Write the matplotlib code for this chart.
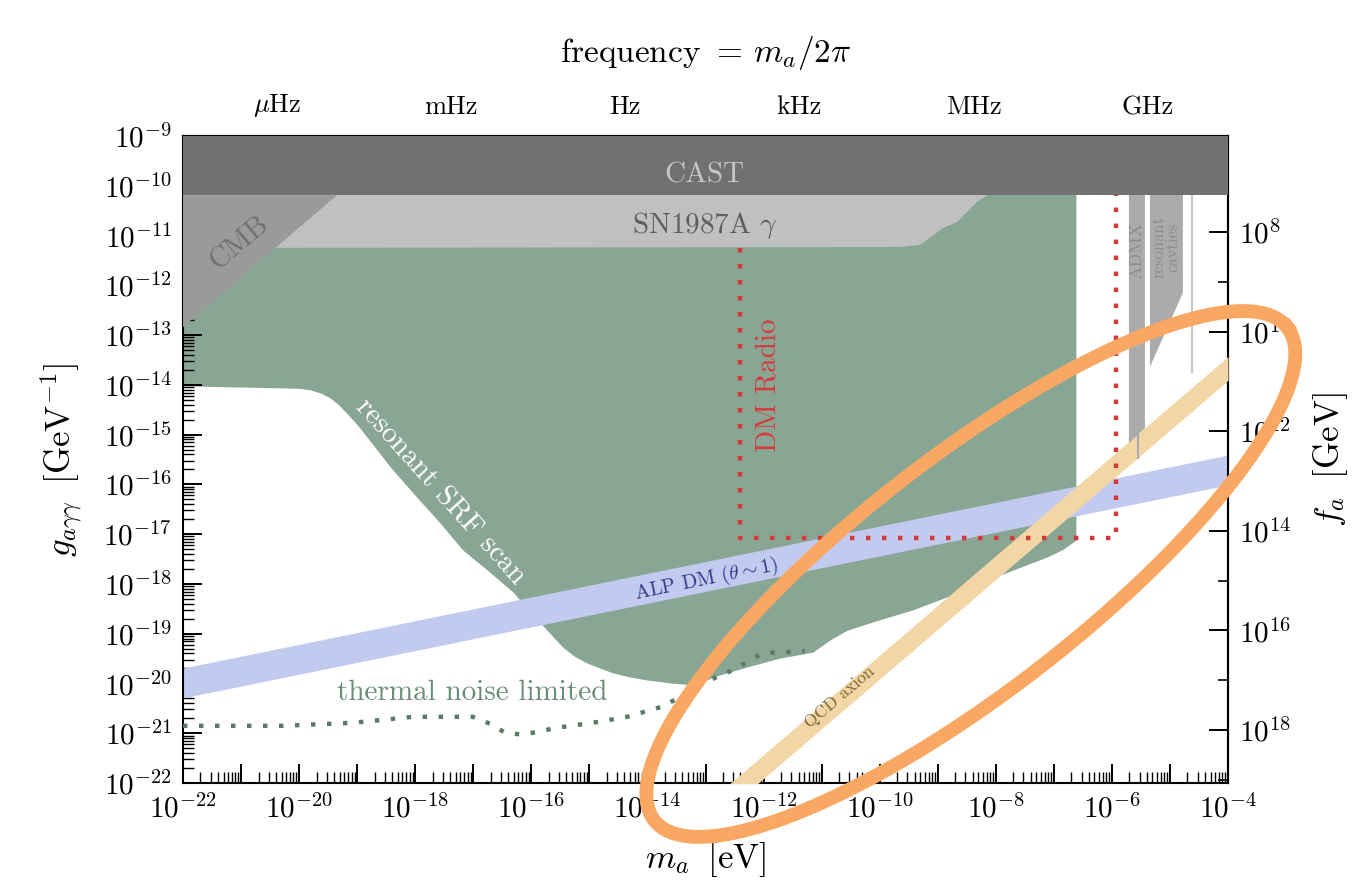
import numpy as np
import matplotlib.pyplot as plt
from matplotlib.lines import Line2D
from matplotlib.ticker import FixedLocator, NullFormatter, FuncFormatter

plt.rcParams['font.family'] = 'serif'
plt.rcParams['font.serif'] = ['cmr10', 'DejaVu Serif']
plt.rcParams['mathtext.fontset'] = 'cm'
plt.rcParams['axes.formatter.use_mathtext'] = True

# --- data (log10 of m_a [eV] and g [GeV^-1]) ---
cast_bottom = -10.19

cmb_x = [-22.0, -19.35, -22.0]
cmb_y = [-12.84, -10.19, -10.19]

sn_x = [-22.0, -9.65, -9.31, -9.14, -8.91, -8.67, -8.50, -8.33, -8.15]
sn_y = [-11.25, -11.23, -11.19, -11.05, -10.85, -10.73, -10.53, -10.33, -10.19]

srf_x = [-22.0, -20.33, -20.0, -19.81, -19.62, -19.47, -19.32, -19.18, -19.0,
         -18.83, -18.43, -18.04, -17.57, -17.18, -16.95, -16.76, -16.32, -15.85,
         -15.46, -15.25, -15.04, -14.80, -14.59, -14.30, -14.01, -13.60, -13.22,
         -13.05, -12.87, -12.29, -11.72, -11.15, -10.85, -10.56, -10.00, -9.43,
         -8.84, -8.27, -7.70, -7.12, -6.85, -6.62]
srf_y = [-14.02, -14.06, -14.07, -14.10, -14.17, -14.26, -14.40, -14.57, -14.80,
         -15.05, -15.65, -16.17, -16.78, -17.32, -17.54, -17.72, -18.16, -18.78,
         -19.27, -19.46, -19.59, -19.70, -19.79, -19.87, -19.93, -19.99, -20.03,
         -19.97, -19.87, -19.67, -19.49, -19.37, -19.12, -18.93, -18.72, -18.52,
         -18.26, -17.98, -17.72, -17.46, -17.31, -17.12]

tn_x = [-22.0, -20.28, -19.07, -18.04, -17.01, -16.71, -16.45, -16.14, -15.56,
        -14.94, -14.35, -13.73, -13.32, -12.92, -12.53, -12.01, -11.29]
tn_y = [-20.85, -20.85, -20.79, -20.67, -20.67, -20.81, -20.99, -21.03, -20.89,
        -20.79, -20.67, -20.46, -20.19, -19.93, -19.73, -19.39, -19.35]

alp_x = [-22.0, -4.0]
alp_lo = [-20.29, -16.01]
alp_hi = [-19.69, -15.41]

qcd_x = [-14.0, -4.0]
qcd_lo = [-23.91, -13.91]
qcd_hi = [-23.43, -13.43]

dmr_x = [-12.41, -12.41, -5.93, -5.93]
dmr_y = [-11.25, -17.08, -17.08, -10.19]

admx_x = [-5.707, -5.431, -5.431, -5.707]
admx_y = [-9.0, -9.0, -14.87, -15.17]
admx_tail_x = [-5.552, -5.552]
admx_tail_y = [-14.9, -15.47]

cav_x = [-5.345, -4.777, -4.777, -5.345]
cav_y = [-9.0, -9.0, -12.15, -13.64]
cav_line_x = [-4.622, -4.622]
cav_line_y = [-10.19, -13.74]

# highlight ellipse: centre (log m, log g), semi axes in x-decades, angle on screen
ell_center = (-8.43, -17.80)
ell_a = 6.91
ell_b = 2.0
ell_angle = 37.9

freq_ticks = [1e-6, 1e-3, 1.0, 1e3, 1e6, 1e9]
freq_labels = [r'$\mu$Hz', 'mHz', 'Hz', 'kHz', 'MHz', 'GHz']

h_eV = 4.1357e-15            # eV s
alpha_2pi = 1 / 137.036 / (2 * np.pi)

def p(v):
    return 10 ** np.asarray(v, dtype=float)

fig = plt.figure(figsize=(13.58, 8.96), dpi=100)
ax = fig.add_axes([0.13476, 0.12612, 0.76952, 0.72210])
ax.set_xscale('log')
ax.set_yscale('log')
ax.set_xlim(1e-22, 1e-4)
ax.set_ylim(1e-22, 1e-9)

green = '#89a694'
ax.fill_between(p(srf_x), p(srf_y), 1e-9, color=green, lw=0, zorder=1)
ax.fill_between(p(alp_x), p(alp_lo), p(alp_hi), color='#c3caef', lw=0, zorder=2)
ax.fill_between(p(qcd_x), p(qcd_lo), p(qcd_hi), color='#f2d6a6', lw=0, zorder=3)
ax.fill(p(admx_x), p(admx_y), color='#ababab', lw=0, zorder=4)
ax.plot(p(admx_tail_x), p(admx_tail_y), color='#ababab', lw=1.5, zorder=4)
ax.fill(p(cav_x), p(cav_y), color='#ababab', lw=0, zorder=4)
ax.plot(p(cav_line_x), p(cav_line_y), color='#c8c8c8', lw=1.5, zorder=4)

ax.plot(p(tn_x), p(tn_y), color='#587c66', lw=3.2, dashes=(1, 2.6), zorder=5)
ax.plot(p(dmr_x), p(dmr_y), color='#d9383a', lw=3.2, dashes=(1, 2.6), zorder=5)

sn_poly_x = sn_x + [sn_x[-1], sn_x[0]]
sn_poly_y = sn_y + [-9.0, -9.0]
ax.fill(p(sn_poly_x), p(sn_poly_y), color='#c0c0c0', lw=0, zorder=6)
ax.fill(p(cmb_x), p(cmb_y), color='#9a9a9a', lw=0, zorder=7)
ax.fill_between([1e-22, 1e-4], 10 ** cast_bottom, 1e-9, color='#717171', lw=0, zorder=8)

# labels inside the plot
def lab(x, y, s, **kw):
    ax.text(10 ** x, 10 ** y, s, ha='center', va='center', rotation_mode='anchor', zorder=9, **kw)

lab(-13.01, -9.80, 'CAST', color='#c6c6c6', fontsize=21)
lab(-13.01, -10.79, r'SN1987A $\gamma$', color='#5e5e5e', fontsize=21)
lab(-21.02, -11.15, 'CMB', color='#707070', fontsize=21, rotation=40)
lab(-11.92, -14.00, 'DM Radio', color='#d9383a', fontsize=21, rotation=90)
lab(-17.57, -16.15, 'resonant SRF scan', color='white', fontsize=21, rotation=-48)
lab(-17.02, -20.19, 'thermal noise limited', color='#6b8c76', fontsize=21)
lab(-12.99, -17.92, r'ALP DM $(\theta \sim 1)$', color='#2e3a87', fontsize=14.5, rotation=11.5)
lab(-10.68, -20.27, 'QCD axion', color='#7a6530', fontsize=12.5, rotation=40.5)
lab(-5.57, -11.29, 'ADMX', color='#8c8c8c', fontsize=13, rotation=90)
lab(-5.07, -11.23, 'resonant\ncavties', color='#8c8c8c', fontsize=12, rotation=90,
    linespacing=0.85)

# axes styling
for s in ax.spines.values():
    s.set_linewidth(1.5)

xmaj = [10.0 ** e for e in range(-22, -3)]
ax.xaxis.set_major_locator(FixedLocator(xmaj))
ax.xaxis.set_major_formatter(FuncFormatter(
    lambda v, pos: r'$10^{%d}$' % round(np.log10(v)) if round(np.log10(v)) % 2 == 0 else ''))
xmin = [k * 10.0 ** e for e in range(-22, -4) for k in range(2, 10)]
ax.xaxis.set_minor_locator(FixedLocator(xmin))
ax.xaxis.set_minor_formatter(NullFormatter())

ymaj = [10.0 ** e for e in range(-22, -8)]
ax.yaxis.set_major_locator(FixedLocator(ymaj))
ax.yaxis.set_major_formatter(FuncFormatter(lambda v, pos: r'$10^{%d}$' % round(np.log10(v))))
ymin = [k * 10.0 ** e for e in range(-22, -9) for k in range(2, 10)]
ax.yaxis.set_minor_locator(FixedLocator(ymin))
ax.yaxis.set_minor_formatter(NullFormatter())

ax.tick_params(which='both', direction='in', top=False, right=False, labelsize=21)
ax.tick_params(which='major', length=14, width=1.4, pad=8)
ax.tick_params(which='minor', length=8, width=1.0)

ax.set_xlabel(r'$m_a\;\;[\mathrm{eV}]$', fontsize=25, labelpad=12)
ax.set_ylabel(r'$g_{a\gamma\gamma}\;\;[\mathrm{GeV}^{-1}]$', fontsize=25, labelpad=14)

# top: frequency
secx = ax.secondary_xaxis('top', functions=(lambda m: m / h_eV, lambda f: f * h_eV))
secx.xaxis.set_major_locator(FixedLocator(freq_ticks))
secx.xaxis.set_major_formatter(FuncFormatter(lambda v, pos: freq_labels[pos] if pos < len(freq_labels) else ''))
fmin = [10.0 ** e for e in range(-7, 11) if 10.0 ** e not in freq_ticks]
secx.xaxis.set_minor_locator(FixedLocator(fmin))
secx.xaxis.set_minor_formatter(NullFormatter())
secx.tick_params(which='both', direction='in', labelsize=19)
secx.tick_params(which='major', length=14, width=1.4, pad=12)
secx.tick_params(which='minor', length=8, width=1.2)
secx.spines['top'].set_linewidth(1.5)
secx.set_xlabel(r'frequency $=\, m_a/2\pi$', fontsize=24, labelpad=22)

# right: f_a
secy = ax.secondary_yaxis('right', functions=(lambda g: alpha_2pi / g, lambda f: alpha_2pi / f))
secy.yaxis.set_major_locator(FixedLocator([10.0 ** e for e in range(8, 19, 2)]))
secy.yaxis.set_major_formatter(FuncFormatter(lambda v, pos: r'$10^{%d}$' % round(np.log10(v))))
secy.yaxis.set_minor_locator(FixedLocator([10.0 ** e for e in range(7, 20, 2)]))
secy.yaxis.set_minor_formatter(NullFormatter())
secy.tick_params(which='both', direction='in', labelsize=21)
secy.tick_params(which='major', length=14, width=1.4, pad=8)
secy.tick_params(which='minor', length=7, width=1.2)
secy.spines['right'].set_linewidth(1.5)
secy.set_ylabel(r'$f_a\;\;[\mathrm{GeV}]$', fontsize=25, labelpad=14)

# orange highlight ellipse, built in screen pixels around its data-space centre
bb = ax.get_window_extent()
px_per_dec = bb.width / 18.0
cx, cy = ax.transData.transform((10 ** ell_center[0], 10 ** ell_center[1]))
A = ell_a * px_per_dec
B = ell_b * px_per_dec
phi = np.radians(ell_angle)
t = np.linspace(0, 2 * np.pi, 400)
X = cx + A * np.cos(phi) * np.cos(t) - B * np.sin(phi) * np.sin(t)
Y = cy + A * np.sin(phi) * np.cos(t) + B * np.cos(phi) * np.sin(t)
ell_data = ax.transData.inverted().transform(np.column_stack([X, Y]))
fig.add_artist(Line2D(ell_data[:, 0], ell_data[:, 1], color='#f9a864', lw=10,
                      transform=ax.transData, solid_joinstyle='round', zorder=10))

fig.savefig('out.png', dpi=100)
